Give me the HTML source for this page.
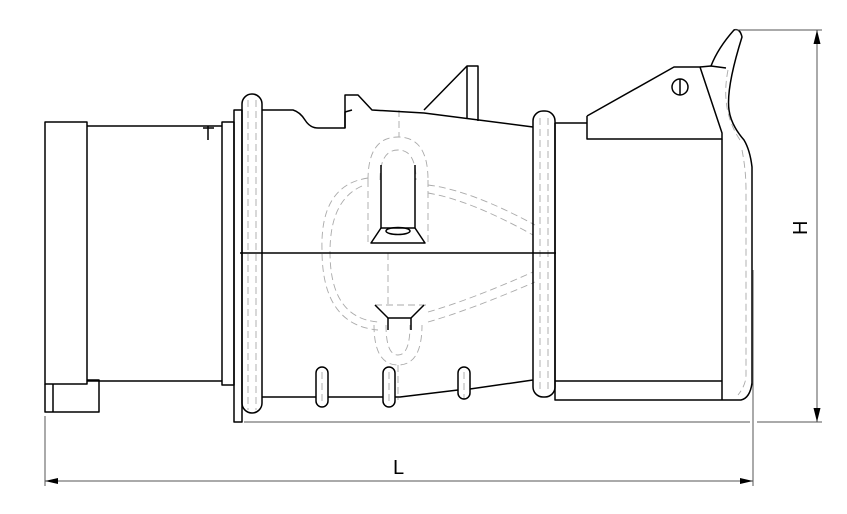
<!DOCTYPE html>
<html><head><meta charset="utf-8"><style>
html,body{margin:0;padding:0;background:#fff}
svg{display:block}
</style></head><body>
<svg width="847" height="514" viewBox="0 0 847 514" xmlns="http://www.w3.org/2000/svg">
<g fill="none" stroke="#aaa" stroke-width="0.9" stroke-dasharray="7,4">
  <path d="M368,180 Q368,137 398,137 Q428,137 428,180"/>
  <path d="M380,180 Q380,150 398,150 Q416,150 416,180"/>
  <path d="M368,180 L368,245 M428,180 L428,245"/>
  <path d="M368,178 Q320,185 322,250 Q322,325 378,330"/>
  <path d="M362,186 Q330,200 330,252 Q330,318 378,322"/>
  <path d="M428,185 Q470,190 535,225"/>
  <path d="M428,193 Q470,200 533,235"/>
  <path d="M428,322 Q470,310 535,282"/>
  <path d="M428,312 Q470,300 533,272"/>
  <path d="M375,305 L428,305 M388,253 L388,305"/>
  <path d="M374,325 Q374,365 398,365 Q422,365 422,325"/>
  <path d="M386,325 Q386,355 398,355 Q410,355 410,325"/>
  <path d="M398,365 L398,400"/>
  <path d="M399,110 L399,137"/>
  <path d="M248,100 L248,410 M256,100 L256,410"/>
  <path d="M540,118 L540,392 M548,118 L548,392"/>
  <path d="M742,150 Q746,170 746,190 L746,375 Q746,385 738,395"/>
  <path d="M728,70 Q720,110 740,140"/>
  <path d="M322,372 L322,402 M389,372 L389,402 M464,372 L464,400"/>
</g>
<g fill="none" stroke="#000" stroke-width="1.5" stroke-linejoin="round">
  <rect x="45" y="122" width="42" height="262"/>
  <path d="M45,384 L45,412 L99,412 L99,380 L87,380"/>
  <path d="M53,384 L53,412"/>
  <path d="M87,126 L222,126 M87,381 L222,381"/>
  <rect x="222" y="122" width="12" height="263"/>
  <rect x="234" y="110" width="8" height="312"/>
  <rect x="242" y="94" width="20" height="319" rx="10"/>
  <path d="M262,110 L293,110 Q300,112 305,120 Q310,128 318,128 L345,128 L345,95 L358,95 L372,110 L424,113 L533,127"/>
  <path d="M345,128 L345,112 L352,110"/>
  <path d="M424,110 L467,66 L478,66 L478,121"/>
  <path d="M467,66 L467,118"/>
  <path d="M240,253 L556,253"/>
  <path d="M262,397 L316,397 M328,397 L383,397 M395,397 L400,397 L458,390 M470,389 L533,380"/>
  <path d="M381,165 L381,228 L415,228 L415,165"/>
  <path d="M381,228 L371,243 L425,243 L415,228"/>
  <ellipse cx="398" cy="231" rx="12" ry="3.5"/>
  <path d="M375,305 L388,318 L411,318 L424,305"/>
  <path d="M388,318 L388,330 M411,318 L411,330"/>
  <rect x="316" y="367" width="12" height="40" rx="6"/>
  <rect x="383" y="367" width="12" height="40" rx="6"/>
  <rect x="458" y="367" width="12" height="32" rx="6"/>
  <rect x="533" y="111" width="22" height="286" rx="10"/>
  <path d="M555,123 L587,123 M555,123 L555,400 L741,400 Q750,398 752,383 L752,167 Q750,150 744,140 Q731,125 729,110 Q726,88 742,37 Q740,28 734,30 Q718,48 711,66"/>
  <path d="M555,381 L722,381 M722,139 L722,400"/>
  <path d="M587,116 L587,139 L722,139 L722,133 L700,67 L674,67 L587,116"/>
  <path d="M700,67 L711,66 L726,68"/>
  <circle cx="680" cy="87" r="8"/>
  <path d="M680,79 L680,95"/>
  <path d="M208,126 L208,140 M203,128 L214,128"/>
</g>
<g fill="none" stroke="#555" stroke-width="1">
  <path d="M244,422 L750,422 M757,422 L822,422 M735,30 L822,30"/>
  <path d="M817,30 L817,422"/>
  <path d="M45,416 L45,486 M753,270 L753,486"/>
  <path d="M45,481 L753,481"/>
</g>
<g fill="#000">
  <path d="M817,30 L813.5,44 L820.5,44 Z"/>
  <path d="M817,422 L813.5,408 L820.5,408 Z"/>
  <path d="M45,481 L58,478 L58,484 Z"/>
  <path d="M753,481 L740,478 L740,484 Z"/>
</g>
<text x="393" y="474" font-family="Liberation Sans, sans-serif" font-size="20" fill="#000">L</text>
<text x="0" y="0" font-family="Liberation Sans, sans-serif" font-size="20" fill="#000" transform="translate(807,235) rotate(-90)">H</text>
</svg>
</body></html>
